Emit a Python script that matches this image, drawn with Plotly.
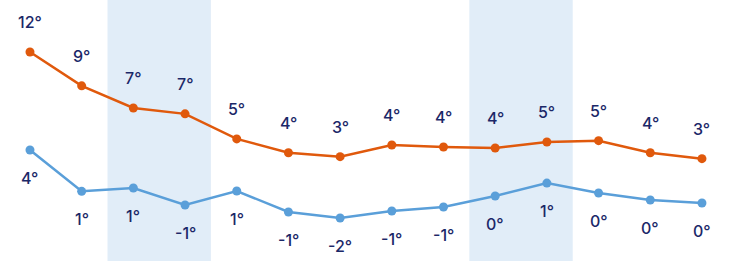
import plotly.graph_objects as go

# Data
idx = list(range(14))
high_vals = [12.0, 9.1, 7.2, 6.7, 4.55, 3.37, 3.03, 4.03, 3.86, 3.77, 4.29, 4.4, 3.37, 2.86]
low_vals = [3.6, 0.06, 0.35, -1.11, 0.09, -1.71, -2.22, -1.62, -1.28, -0.34, 0.77, -0.08, -0.68, -0.94]
high_labels = ["12°", "9°", "7°", "7°", "5°", "4°", "3°", "4°", "4°", "4°", "5°", "5°", "4°", "3°"]
low_labels = ["4°", "1°", "1°", "-1°", "1°", "-1°", "-2°", "-1°", "-1°", "0°", "1°", "0°", "0°", "0°"]
shaded = [(2, 3), (9, 10)]

ORANGE = "#e0590c"
BLUE = "#5a9fd9"
TEXT = "#1b2868"
BAND = "#e1edf8"
FONT = "Inter"

fig = go.Figure()
fig.add_trace(go.Scatter(x=idx, y=high_vals, mode="lines+markers",
                         line=dict(color=ORANGE, width=2.5),
                         marker=dict(color=ORANGE, size=9), hoverinfo="skip"))
fig.add_trace(go.Scatter(x=idx, y=low_vals, mode="lines+markers",
                         line=dict(color=BLUE, width=2.5),
                         marker=dict(color=BLUE, size=9), hoverinfo="skip"))

for a, b in shaded:
    fig.add_shape(type="rect", xref="x", yref="paper", x0=a - 0.5, x1=b + 0.5,
                  y0=0, y1=1, fillcolor=BAND, line=dict(width=0), layer="below")

for i, v, t in zip(idx, high_vals, high_labels):
    fig.add_annotation(x=i, y=v, text=t, showarrow=False, yshift=30,
                       font=dict(family=FONT, size=16, color=TEXT, weight=500))
for i, v, t in zip(idx, low_vals, low_labels):
    fig.add_annotation(x=i, y=v, text=t, showarrow=False, yshift=-28,
                       font=dict(family=FONT, size=16, color=TEXT, weight=500))

fig.update_layout(
    width=740, height=261, margin=dict(l=0, r=0, t=0, b=0),
    plot_bgcolor="white", paper_bgcolor="white", showlegend=False,
    xaxis=dict(range=[-0.580, 13.736], visible=False, fixedrange=True),
    yaxis=dict(range=[-5.909, 16.456], visible=False, fixedrange=True),
)
fig.write_html("out.html", config={"displayModeBar": False})
